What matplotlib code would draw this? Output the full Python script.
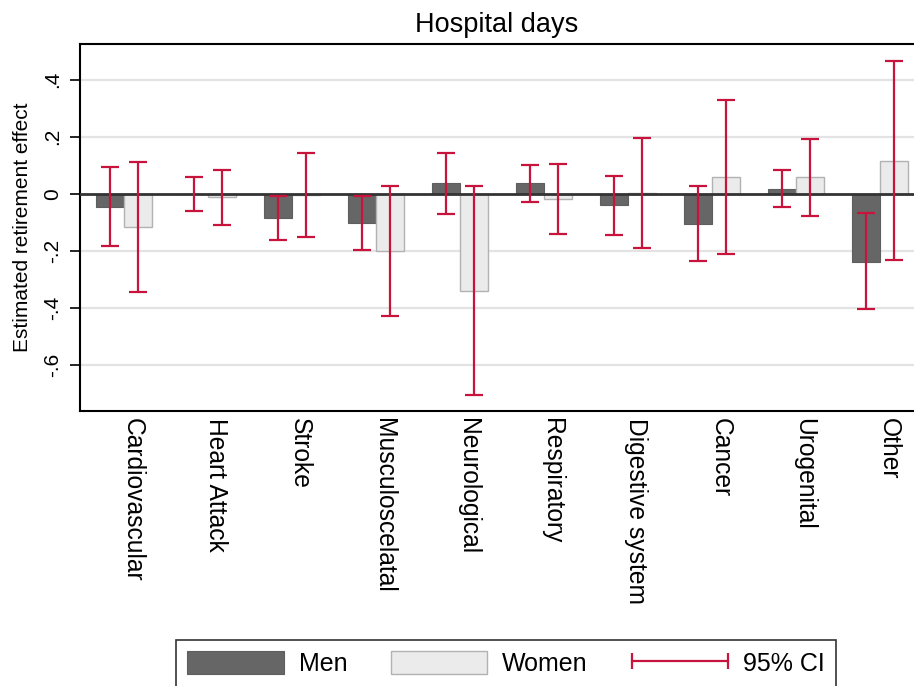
import numpy as np
import matplotlib
matplotlib.use("Agg")
import matplotlib.pyplot as plt
from matplotlib.patches import Patch
from matplotlib.lines import Line2D
from matplotlib.legend_handler import HandlerLine2D

plt.rcParams["font.family"] = ["Liberation Sans", "DejaVu Sans"]

# dados
categorias = ["Cardiovascular", "Heart Attack", "Stroke", "Musculoscelatal", "Neurological",
              "Respiratory", "Digestive system", "Cancer", "Urogenital", "Other"]

homens = [-0.045, 0.0, -0.086, -0.104, 0.036, 0.039, -0.041, -0.105, 0.018, -0.238]
homens_lo = [-0.182, -0.059, -0.163, -0.197, -0.071, -0.028, -0.144, -0.235, -0.048, -0.404]
homens_hi = [0.093, 0.059, -0.007, -0.008, 0.142, 0.101, 0.063, 0.027, 0.082, -0.069]

mulheres = [-0.116, -0.013, -0.005, -0.200, -0.340, -0.020, 0.003, 0.058, 0.058, 0.115]
mulheres_lo = [-0.344, -0.109, -0.153, -0.430, -0.705, -0.143, -0.190, -0.213, -0.077, -0.232]
mulheres_hi = [0.111, 0.083, 0.142, 0.028, 0.026, 0.104, 0.195, 0.328, 0.192, 0.465]

ytick_vals = [-0.6, -0.4, -0.2, 0, 0.2, 0.4]
ytick_labels = ["-.6", "-.4", "-.2", "0", ".2", ".4"]

COR_CI = "#C8143C"

fig = plt.figure(figsize=(9.14, 6.86), dpi=100)
ax = fig.add_axes([80 / 914, 1 - 411 / 686, 1 - 80 / 914, (411 - 44) / 686])

x = np.arange(len(categorias))
w = 1 / 3
x_h = x - w / 2
x_m = x + w / 2

# linhas de grade
for v in ytick_vals:
    if v != 0:
        ax.axhline(v, color="#E3E3E3", lw=1.6, zorder=0)

ax.bar(x_h, homens, width=w, color="#666666", edgecolor="#5E5E5E", lw=0.8, zorder=2)
ax.bar(x_m, mulheres, width=w, color="#EBEBEB", edgecolor="#B2B2B2", lw=1.0, zorder=2)
ax.axhline(0, color="#333333", lw=2, zorder=3)

h = np.array(homens)
m = np.array(mulheres)
ax.errorbar(x_h, h, yerr=[h - np.array(homens_lo), np.array(homens_hi) - h], fmt="none",
            ecolor=COR_CI, elinewidth=1.6, capsize=6.5, capthick=1.6, zorder=4)
ax.errorbar(x_m, m, yerr=[m - np.array(mulheres_lo), np.array(mulheres_hi) - m], fmt="none",
            ecolor=COR_CI, elinewidth=1.6, capsize=6.5, capthick=1.6, zorder=4)

ax.set_xlim(-0.524, 9.405)
ax.set_ylim(-0.762, 0.525)

ax.set_yticks(ytick_vals)
ax.set_yticklabels(ytick_labels, fontsize=15, rotation=90, va="center")
ax.tick_params(axis="y", length=7, width=1.2, pad=6)

ax.set_xticks(x + 0.1)
ax.set_xticklabels(categorias, fontsize=17.7, rotation=-90, ha="center", va="top")
ax.tick_params(axis="x", length=0, pad=5)

for s in ["left", "top", "bottom"]:
    ax.spines[s].set_linewidth(1.5)
    ax.spines[s].set_color("black")
ax.spines["right"].set_visible(False)

ax.set_ylabel("Estimated retirement effect", fontsize=15, va="center")
ax.yaxis.set_label_coords(-0.069, 0.5)
ax.set_title("Hospital days", fontsize=19.5, pad=9)

handles = [
    Patch(facecolor="#666666", edgecolor="#5E5E5E", lw=0.8),
    Patch(facecolor="#EBEBEB", edgecolor="#B2B2B2", lw=1.0),
    Line2D([], [], color=COR_CI, lw=1.6, marker="|", markersize=12, mew=1.6),
]
leg = fig.legend(handles, ["Men", "Women", "95% CI"], ncol=3, loc="upper center",
                 bbox_to_anchor=(506 / 914, 1 - 640 / 686), fontsize=18,
                 handler_map={Line2D: HandlerLine2D(marker_pad=0.0, numpoints=2)},
                 handlelength=3.85, handleheight=1.05, handletextpad=0.6, columnspacing=1.75,
                 borderpad=0.45, borderaxespad=0, fancybox=False, frameon=True)
leg.get_frame().set_edgecolor("black")
leg.get_frame().set_linewidth(1.2)

fig.savefig("out.png", dpi=100)
